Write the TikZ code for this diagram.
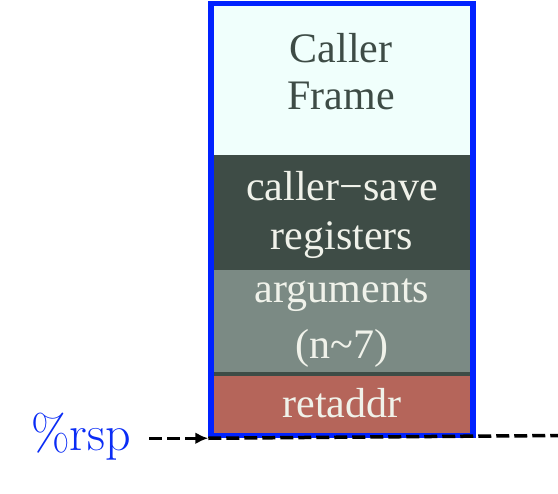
\documentclass[tikz,border=0pt]{standalone}
\usepackage{fontspec}
\newfontfamily\boxfont{Liberation Serif}
\usetikzlibrary{arrows.meta}
\definecolor{framecol}{RGB}{0,34,255}
\definecolor{rspcol}{RGB}{10,44,245}
\definecolor{cyanfill}{RGB}{240,255,252}
\definecolor{darkfill}{RGB}{62,76,70}
\definecolor{grayfill}{RGB}{123,138,132}
\definecolor{redfill}{RGB}{181,101,90}
\definecolor{lighttext}{RGB}{240,242,234}
\definecolor{darktext}{RGB}{62,76,70}
\tikzset{
  blk/.style={rectangle, inner sep=0pt, minimum width=257bp},
  lbl/.style={anchor=base, inner sep=0pt, font=\boxfont\fontsize{42bp}{47bp}\selectfont},
  dashline/.style={line width=3.5bp, dash pattern=on 13bp off 5bp, black},
}
\begin{document}
\begin{tikzpicture}[x=1bp, y=-1bp]
\useasboundingbox (0,0) rectangle (558,494);
% blocks
\node[blk, fill=cyanfill, minimum height=149bp] (callerblk) at (342,80.5) {};
\node[blk, fill=darkfill, minimum height=115bp] (saveblk) at (342,212.5) {};
\node[blk, fill=grayfill, minimum height=102bp] (argblk) at (342,321) {};
\node[blk, fill=darkfill, minimum height=4bp] (sepblk) at (342,374) {};
\node[blk, fill=redfill, minimum height=57bp] (retblk) at (342,404.5) {};
% texts
\node[lbl, text=darktext] (t1) at (341,63) {Caller};
\node[lbl, text=darktext] (t2) at (341,110) {Frame};
\node[lbl, text=lighttext] (t3) at (342,201) {caller\char"2212 save};
\node[lbl, text=lighttext] (t4) at (342,249) {registers};
\node[lbl, text=lighttext] (t5) at (342,302) {arguments};
\node[lbl, text=lighttext] (t6) at (342,358) {(n\textasciitilde 7)};
\node[lbl, text=lighttext] (t7) at (342,417) {retaddr};
% frame
\node[draw=framecol, line width=5.5bp, inner sep=0pt, minimum width=262bp, minimum height=432bp] (frame) at (342,219.5) {};
% rsp label
\node[anchor=base west, inner sep=0pt, text=rspcol, font=\fontsize{50bp}{55bp}\selectfont] (rsp) at (31,450) {\%rsp};
\coordinate (rightend) at (558,435.5);
\draw[dashline] (frame.south west) -- (rightend);
\draw[dashline, -{Latex[length=13bp, width=12bp]}] ([xshift=18bp]rsp.east |- frame.south west) -- (frame.south west);
\end{tikzpicture}
\end{document}
